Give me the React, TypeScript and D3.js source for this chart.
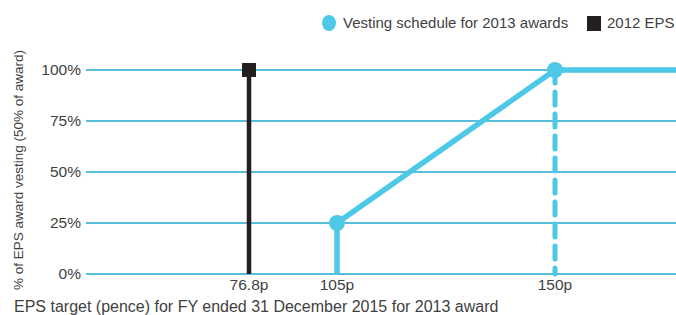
import React from "react";
import * as d3 from "d3";

const yTicks = [0, 25, 50, 75, 100];
const xTickValues = [76.8, 105, 150];
const xTickLabels = ["76.8p", "105p", "150p"];
const vestX = [105, 105, 150, 175];
const vestY = [0, 25, 100, 100];
const vestMarkersX = [105, 150];
const vestMarkersY = [25, 100];
const epsX = [76.8];
const epsY = [100];

const W = 676;
const H = 315;
const m = { left: 86, right: 0, top: 70, bottom: 41 };

export default function App() {
  const x = d3
    .scaleLinear()
    .domain([50, 76.8, 105, 150, 175])
    .range([m.left, 249, 337, 555, W - m.right]);
  const y = d3.scaleLinear().domain([0, 100]).range([H - m.bottom, m.top]);
  const cyan = "#4dc8e7";
  const grid = "#1fa7cd";
  const txt = "#3f3f3f";
  const font = "'Liberation Sans', Arial, sans-serif";

  const solidPts: [number, number][] = vestX.map((v, i) => [x(v), y(vestY[i])]);
  const line = d3.line();

  return (
    <svg
      width={W}
      height={H}
      style={{ position: "absolute", left: 0, top: 0, fontFamily: font }}
    >
      {yTicks.map((t) => (
        <g key={t}>
          <line x1={m.left} x2={W} y1={y(t)} y2={y(t)} stroke={grid} strokeWidth={1.3} />
          <text x={81} y={y(t)} dy="0.35em" textAnchor="end" fontSize={15.5} fill={txt}>
            {t}%
          </text>
        </g>
      ))}
      {xTickValues.map((v, i) => (
        <text key={v} x={x(v)} y={290} textAnchor="middle" fontSize={15.5} fill={txt}>
          {xTickLabels[i]}
        </text>
      ))}
      <text x={14} y={312} fontSize={16} fill={txt}>
        EPS target (pence) for FY ended 31 December 2015 for 2013 award
      </text>
      <text
        transform={`translate(23,${(y(0) + y(100)) / 2 - 2}) rotate(-90)`}
        textAnchor="middle"
        fontSize={13.5}
        fill={txt}
      >
        % of EPS award vesting (50% of award)
      </text>

      {/* 2012 EPS */}
      {epsX.map((v, i) => (
        <g key={v}>
          <line x1={x(v)} x2={x(v)} y1={y(0)} y2={y(epsY[i])} stroke="#231f20" strokeWidth={4.5} />
          <rect x={x(v) - 7} y={y(epsY[i]) - 7} width={14} height={14} fill="#231f20" />
        </g>
      ))}

      {/* dashed vertical at 150p */}
      <line
        x1={x(150)}
        x2={x(150)}
        y1={y(100)}
        y2={y(0)}
        stroke={cyan}
        strokeWidth={5}
        strokeDasharray="13 9"
        strokeLinecap="round"
      />
      <path d={line(solidPts) || ""} fill="none" stroke={cyan} strokeWidth={5.5} strokeLinejoin="round" />
      {vestMarkersX.map((v, i) => (
        <circle key={v} cx={x(v)} cy={y(vestMarkersY[i])} r={8} fill={cyan} />
      ))}

      {/* legend */}
      <ellipse cx={329} cy={23} rx={7} ry={8} fill={cyan} />
      <text x={343} y={23} dy="0.35em" fontSize={15} fill={txt}>
        Vesting schedule for 2013 awards
      </text>
      <rect x={587} y={16} width={14} height={15} fill="#231f20" />
      <text x={607} y={23} dy="0.35em" fontSize={15} fill={txt}>
        2012 EPS
      </text>
    </svg>
  );
}
